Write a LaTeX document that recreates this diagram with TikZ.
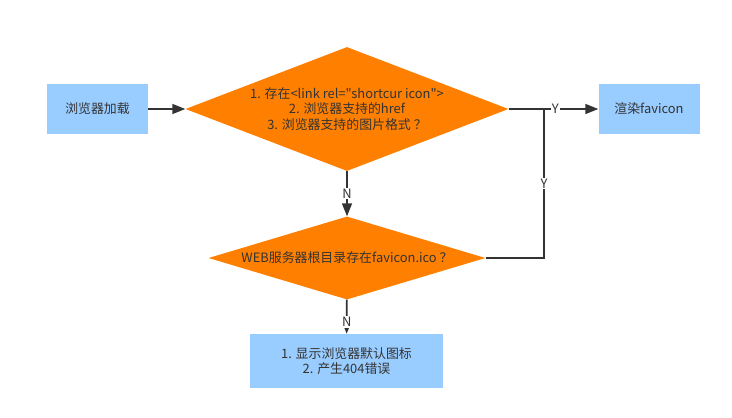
\documentclass[tikz,border=0pt]{standalone}
\usepackage{fontspec}
\setmainfont{Noto Sans CJK SC}[Ligatures=TeXOff]
\usetikzlibrary{shapes.geometric,arrows.meta}
\definecolor{boxblue}{HTML}{99CCFF}
\definecolor{dorange}{HTML}{FF8000}
\definecolor{lineclr}{HTML}{333333}
\definecolor{txtgray}{HTML}{333333}

\begin{document}
\begin{tikzpicture}[x=1pt, y=-1pt, font=\fontsize{12.9}{15.6}\selectfont,
  >={Triangle[length=13pt,width=10pt]},
  box/.style={fill=boxblue, align=center, inner sep=3pt, text=txtgray},
  proc/.style={box, minimum width=101pt, minimum height=50pt},
  dec/.style={diamond, fill=dorange, align=center, inner sep=0pt, text=txtgray},
  lnk/.style={draw=lineclr, line width=1.6pt},
  lab/.style={fill=white, inner sep=1pt, text=txtgray}]
\useasboundingbox (0,0) rectangle (732,418);
\node[proc] (load) at (97.5,109) {浏览器加载};
\node[dec, aspect=2.6, minimum width=323pt, minimum height=124pt] (d1) at (347,109)
  {1. 存在<link rel="shortcur icon">\\2. 浏览器支持的href\\3. 浏览器支持的图片格式 ？};
\node[proc] (render) at (649,109) {渲染favicon};
\node[dec, aspect=3.3, minimum width=277pt, minimum height=83pt] (d2) at (347,258)
  {WEB服务器根目录存在favicon.ico ？};
\node[box, minimum width=193pt, minimum height=54pt] (msg) at (346.5,361)
  {1. 显示浏览器默认图标\\2. 产生404错误};
\coordinate (j) at (544,109);
\draw[lnk, ->] (load) -- (d1);
\draw[lnk, ->] (d1) -- node[lab, pos=0.52] {Y} (render);
\draw[lnk, ->] (d1) -- node[lab] {N} (d2);
\draw[lnk] (d2.east) -| node[lab, pos=0.75] {Y} (j);
\draw[lnk, ->] (d2) -- node[lab, pos=0.65] {N} (msg);
\end{tikzpicture}
\end{document}
